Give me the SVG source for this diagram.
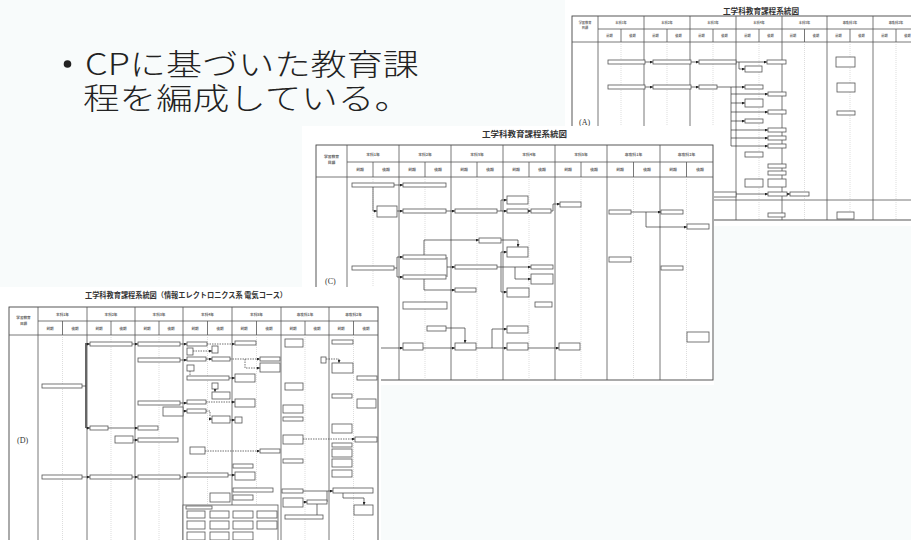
<svg xmlns="http://www.w3.org/2000/svg" width="911" height="540" viewBox="0 0 911 540">
<defs>
<marker id="ar" viewBox="0 0 4 4" refX="4" refY="2" markerWidth="3" markerHeight="3" markerUnits="userSpaceOnUse" orient="auto"><path d="M0 0L4 2L0 4z" fill="#222"/></marker>
<style>
.bg{fill:#fff}
.tb{fill:none;stroke:#444;stroke-width:0.9}
.gl{fill:none;stroke:#555;stroke-width:0.8}
.dl{fill:none;stroke:#bbb;stroke-width:0.5;stroke-dasharray:1 1}
.bx{fill:#fff;stroke:#555;stroke-width:0.8}
.cn{fill:none;stroke:#333;stroke-width:0.7}
.ca{fill:none;stroke:#333;stroke-width:0.7;marker-end:url(#ar)}
.cd{fill:none;stroke:#333;stroke-width:0.7;stroke-dasharray:1.5 1;marker-end:url(#ar)}
.hd{font-family:"Noto Sans CJK JP",sans-serif;font-weight:bold;fill:#666;text-anchor:middle}
.ha{font-size:3.2px}
.hc{font-size:3.8px}
.hdd{font-size:3.6px}
.tt{font-family:"Noto Sans CJK JP",sans-serif;font-weight:bold;fill:#333}
.lb{font-family:"Liberation Serif",serif;font-size:8px;fill:#333}
.main{font-family:"Noto Sans CJK JP",sans-serif;font-size:30px;font-weight:300;fill:#222}
</style>
</defs>
<rect width="911" height="540" fill="#f8fbfb"/>

<g id="bullet">
<circle cx="67.5" cy="64" r="3.8" fill="#222"/>
<text class="main"><tspan x="85" y="74.5" textLength="334" lengthAdjust="spacingAndGlyphs">CPに基づいた教育課</tspan><tspan x="83" y="108.5" textLength="328" lengthAdjust="spacingAndGlyphs">程を編成している。</tspan></text>
</g>

<!-- Chart A -->
<g id="chartA">
<rect class="bg" x="565" y="0" width="346" height="226"/>
<text class="tt" x="723" y="13.5" font-size="7.5" textLength="76" lengthAdjust="spacingAndGlyphs">工学科教育課程系統図</text>
<rect class="tb" x="572" y="16" width="345" height="204"/>
<path class="gl" d="M598 29H917M572 42H917M572 200H917M598 16V220M644 16V220M690 16V220M736 16V220M782 16V220M827 16V220M873 16V220"/>
<path class="gl" d="M621 29V42M667 29V42M713 29V42M759 29V42M804.5 29V42M850 29V42M896 29V42"/>
<path class="dl" d="M621 42V220M667 42V220M713 42V220M759 42V220M804.5 42V220M850 42V220M896 42V220"/>
<g class="hd ha">
<text x="585" y="24">学習教育</text><text x="585" y="29">目標</text>
<text x="621" y="24">本科1年</text><text x="667" y="24">本科2年</text><text x="713" y="24">本科3年</text><text x="759" y="24">本科4年</text><text x="804.5" y="24">本科5年</text><text x="850" y="24">専攻科1年</text><text x="896" y="24">専攻科2年</text>
<text x="609.5" y="37">前期</text><text x="632.5" y="37">後期</text><text x="655.5" y="37">前期</text><text x="678.5" y="37">後期</text><text x="701.5" y="37">前期</text><text x="724.5" y="37">後期</text><text x="747.5" y="37">前期</text><text x="770.5" y="37">後期</text><text x="793" y="37">前期</text><text x="816" y="37">後期</text><text x="838.5" y="37">前期</text><text x="861.5" y="37">後期</text><text x="884.5" y="37">前期</text><text x="907.5" y="37">後期</text>
</g>
<text class="lb" x="579" y="124.5">(A)</text>
<g id="A-connectors">
<path class="ca" d="M645 62H653"/><path class="ca" d="M691 62H699"/><path class="ca" d="M736 62H767"/><path class="ca" d="M739 62V69H745"/>
<path class="ca" d="M645 87H653"/><path class="ca" d="M691 87H699"/><path class="cn" d="M717 87H731V146"/>
<path class="ca" d="M731 87H745"/><path class="ca" d="M731 94H768"/><path class="ca" d="M731 103H745"/><path class="ca" d="M731 112H768"/><path class="ca" d="M731 121H745"/><path class="ca" d="M731 130H768"/><path class="ca" d="M731 138H768"/><path class="ca" d="M731 146H768"/>
<path class="ca" d="M736 194H768"/><path class="ca" d="M787 194H790"/>
</g>
<g id="A-nodes">
<rect class="bx" x="608" y="60" width="37" height="4"/><rect class="bx" x="653" y="60" width="38" height="4"/><rect class="bx" x="699" y="60" width="37" height="4"/><rect class="bx" x="767" y="60" width="19" height="4"/><rect class="bx" x="745" y="66" width="17" height="6"/>
<rect class="bx" x="608" y="85" width="37" height="4"/><rect class="bx" x="653" y="85" width="38" height="4"/><rect class="bx" x="699" y="85" width="18" height="4"/>
<rect class="bx" x="745" y="85" width="18" height="4"/><rect class="bx" x="768" y="92" width="18" height="4"/><rect class="bx" x="745" y="99" width="18" height="8"/><rect class="bx" x="768" y="110" width="18" height="4"/><rect class="bx" x="745" y="119" width="18" height="4"/><rect class="bx" x="768" y="128" width="18" height="4"/><rect class="bx" x="768" y="136" width="18" height="4"/><rect class="bx" x="768" y="144" width="18" height="4"/>
<rect class="bx" x="745" y="152" width="18" height="5"/><rect class="bx" x="768" y="164" width="18" height="4"/><rect class="bx" x="768" y="171" width="18" height="4"/><rect class="bx" x="745" y="179" width="18" height="8"/><rect class="bx" x="768" y="179" width="18" height="8"/>
<rect class="bx" x="705" y="192" width="31" height="5"/><rect class="bx" x="768" y="192" width="19" height="4"/><rect class="bx" x="790" y="192" width="19" height="4"/>
<rect class="bx" x="768" y="213" width="17" height="4"/><rect class="bx" x="837" y="212" width="17" height="7"/>
<rect class="bx" x="836" y="57" width="19" height="10"/><rect class="bx" x="837" y="83" width="18" height="9"/><rect class="bx" x="837" y="111" width="18" height="4"/>
</g>
</g>

<!-- Chart C -->
<g id="chartC">
<rect class="bg" x="302" y="126" width="412" height="259"/>
<text class="tt" x="482" y="137" font-size="8" textLength="85" lengthAdjust="spacingAndGlyphs">工学科教育課程系統図</text>
<rect class="tb" x="316" y="145" width="397" height="235"/>
<path class="gl" d="M347 162H713M316 177H713M347 145V380M399 145V380M451 145V380M503 145V380M555 145V380M607 145V380M660 145V380"/>
<path class="gl" d="M373 162V177M425 162V177M477 162V177M529 162V177M581 162V177M633.5 162V177M686.5 162V177"/>
<path class="dl" d="M373 177V380M425 177V380M477 177V380M529 177V380M581 177V380M633.5 177V380M686.5 177V380"/>
<g class="hd hc">
<text x="331.5" y="158">学習教育</text><text x="331.5" y="164">目標</text>
<text x="373" y="156">本科1年</text><text x="425" y="156">本科2年</text><text x="477" y="156">本科3年</text><text x="529" y="156">本科4年</text><text x="581" y="156">本科5年</text><text x="633.5" y="156">専攻科1年</text><text x="686.5" y="156">専攻科2年</text>
<text x="360" y="171">前期</text><text x="386" y="171">後期</text><text x="412" y="171">前期</text><text x="438" y="171">後期</text><text x="464" y="171">前期</text><text x="490" y="171">後期</text><text x="516" y="171">前期</text><text x="542" y="171">後期</text><text x="568" y="171">前期</text><text x="594" y="171">後期</text><text x="620" y="171">前期</text><text x="647" y="171">後期</text><text x="673" y="171">前期</text><text x="700" y="171">後期</text>
</g>
<text class="lb" x="325" y="284">(C)</text>
<g id="C-connectors">
<path class="ca" d="M394 185H403"/><path class="ca" d="M373 187V211H377"/><path class="ca" d="M397 211H403"/><path class="ca" d="M446 211H455"/>
<path class="cn" d="M497 211H501"/><path class="ca" d="M501 211V200H507"/><path class="ca" d="M501 211H507"/><path class="ca" d="M528 211H531"/><path class="ca" d="M551 211H553V204H560"/>
<path class="cn" d="M394 268H397M397 257V277"/><path class="ca" d="M397 257H403"/><path class="ca" d="M397 277H403"/>
<path class="cn" d="M447 257V277"/><path class="ca" d="M447 267H455"/>
<path class="ca" d="M424 255V240H479"/><path class="ca" d="M501 240H518V247"/><path class="ca" d="M424 279V290H455"/>
<path class="ca" d="M497 267H531"/><path class="cn" d="M501 252V292"/><path class="ca" d="M501 252H507"/><path class="ca" d="M501 292H507"/><path class="ca" d="M515 267V279H531"/>
<path class="ca" d="M446 328H465V343"/>
<path class="ca" d="M330 348H403"/><path class="ca" d="M423 348H455"/><path class="ca" d="M476 348H507"/><path class="ca" d="M492 348V329H507"/><path class="ca" d="M528 348H559"/>
<path class="ca" d="M631 212H661"/><path class="ca" d="M646 212V227H687"/>
</g>
<g id="C-nodes">
<rect class="bx" x="352" y="183" width="42" height="4"/><rect class="bx" x="403" y="183" width="43" height="4"/><rect class="bx" x="377" y="206" width="20" height="11"/><rect class="bx" x="403" y="209" width="43" height="4"/><rect class="bx" x="455" y="209" width="42" height="4"/>
<rect class="bx" x="507" y="196" width="21" height="8"/><rect class="bx" x="507" y="209" width="21" height="4"/><rect class="bx" x="531" y="209" width="20" height="4"/><rect class="bx" x="560" y="202" width="21" height="5"/>
<rect class="bx" x="352" y="266" width="42" height="4"/><rect class="bx" x="403" y="255" width="43" height="4"/><rect class="bx" x="403" y="275" width="43" height="4"/><rect class="bx" x="479" y="238" width="22" height="5"/><rect class="bx" x="507" y="247" width="21" height="10"/>
<rect class="bx" x="455" y="288" width="21" height="4"/><rect class="bx" x="455" y="265" width="42" height="4"/><rect class="bx" x="531" y="265" width="22" height="4"/><rect class="bx" x="531" y="274" width="22" height="10"/><rect class="bx" x="507" y="288" width="22" height="9"/>
<rect class="bx" x="403" y="302" width="44" height="7"/><rect class="bx" x="535" y="302" width="17" height="5"/><rect class="bx" x="427" y="326" width="19" height="5"/>
<rect class="bx" x="455" y="343" width="21" height="7"/><rect class="bx" x="403" y="343" width="20" height="7"/><rect class="bx" x="507" y="326" width="21" height="7"/><rect class="bx" x="507" y="343" width="21" height="7"/><rect class="bx" x="559" y="343" width="21" height="7"/>
<rect class="bx" x="609" y="210" width="22" height="4"/><rect class="bx" x="661" y="210" width="22" height="4"/><rect class="bx" x="687" y="224" width="22" height="5"/><rect class="bx" x="609" y="257" width="22" height="5"/><rect class="bx" x="661" y="266" width="22" height="4"/><rect class="bx" x="687" y="332" width="22" height="10"/>
</g>
</g>

<!-- Chart D -->
<g id="chartD">
<rect class="bg" x="0" y="287" width="381" height="253"/>
<text class="tt" x="85" y="297.5" font-size="7.5" textLength="202" lengthAdjust="spacingAndGlyphs">工学科教育課程系統図（情報エレクトロニクス系 電気コース）</text>
<rect class="tb" x="9" y="307" width="369" height="240"/>
<path class="gl" d="M38 321H378M9 335H378M38 307V547M87 307V547M135 307V547M183 307V547M232 307V547M281 307V547M329 307V547"/>
<path class="gl" d="M62.5 321V335M111 321V335M159 321V335M207.5 321V335M256.5 321V335M305 321V335M353.5 321V335"/>
<path class="dl" d="M62.5 335V540M111 335V540M159 335V540M207.5 335V540M256.5 335V540M305 335V540M353.5 335V540"/>
<g class="hd hdd">
<text x="23.5" y="319">学習教育</text><text x="23.5" y="325">目標</text>
<text x="62.5" y="316">本科1年</text><text x="111" y="316">本科2年</text><text x="159" y="316">本科3年</text><text x="207.5" y="316">本科4年</text><text x="256.5" y="316">本科5年</text><text x="305" y="316">専攻科1年</text><text x="353.5" y="316">専攻科2年</text>
<text x="50" y="330">前期</text><text x="75" y="330">後期</text><text x="99" y="330">前期</text><text x="123" y="330">後期</text><text x="147" y="330">前期</text><text x="171" y="330">後期</text><text x="195" y="330">前期</text><text x="220" y="330">後期</text><text x="244" y="330">前期</text><text x="269" y="330">後期</text><text x="293" y="330">前期</text><text x="317" y="330">後期</text><text x="341" y="330">前期</text><text x="366" y="330">後期</text>
</g>
<text class="lb" x="17" y="443">(D)</text>
<g id="D-connectors">
<path d="M86 343V428" stroke="#666" stroke-width="2" fill="none"/>
<path class="cn" d="M82 386H86"/><path class="ca" d="M86 344H90"/><path class="ca" d="M86 428H90"/>
<path class="ca" d="M132 344H138"/><path class="ca" d="M180 344H187"/><path class="ca" d="M180 360H187"/><path class="ca" d="M180 403H187"/><path class="ca" d="M183 411H187"/>
<path class="ca" d="M108 428H138"/><path class="ca" d="M133 440H138"/>
<path class="ca" d="M82 477H90"/><path class="ca" d="M132 477H138"/><path class="ca" d="M180 477H187"/>
<path class="cd" d="M207 344H235"/><path class="cd" d="M193 351H212"/><path class="ca" d="M206 359H212"/><path class="cd" d="M230 359H260"/><path class="cd" d="M245 359V368H260"/>
<path class="cn" d="M190 371V376" stroke-dasharray="1.5 1"/><path class="ca" d="M229 378H235"/><path class="cd" d="M215 389V392"/>
<path class="cd" d="M206 402H235"/><path class="cd" d="M206 411H210V419H212"/><path class="ca" d="M230 420H235"/>
<path class="cd" d="M205 451H260"/><path class="ca" d="M228 475H235"/>
<path class="cd" d="M303 439H355"/><path class="cd" d="M326 359H339V363"/>
<path class="ca" d="M303 491H333"/><path class="cn" d="M327 491V502"/><path class="ca" d="M303 502H307"/><path class="cn" d="M317 504V515"/><path class="ca" d="M343 493V498H364V505"/>
</g>
<g id="D-nodes">
<rect class="bx" x="42" y="384" width="40" height="4"/><rect class="bx" x="90" y="342" width="42" height="4"/><rect class="bx" x="90" y="426" width="18" height="4"/>
<rect class="bx" x="138" y="342" width="42" height="4"/><rect class="bx" x="138" y="358" width="42" height="4"/><rect class="bx" x="138" y="401" width="42" height="4"/><rect class="bx" x="163" y="407" width="20" height="9"/><rect class="bx" x="138" y="426" width="20" height="4"/><rect class="bx" x="115" y="436" width="18" height="7"/><rect class="bx" x="138" y="438" width="40" height="4"/>
<rect class="bx" x="42" y="475" width="40" height="4"/><rect class="bx" x="90" y="475" width="42" height="4"/><rect class="bx" x="138" y="475" width="42" height="4"/>
<rect class="bx" x="187" y="342" width="20" height="4"/><rect class="bx" x="187" y="348" width="6" height="7"/><rect class="bx" x="212" y="346" width="6" height="7"/><rect class="bx" x="187" y="357" width="19" height="4"/><rect class="bx" x="212" y="357" width="18" height="4"/><rect class="bx" x="187" y="365" width="7" height="6"/>
<rect class="bx" x="187" y="376" width="42" height="4"/><rect class="bx" x="212" y="383" width="6" height="6"/><rect class="bx" x="212" y="392" width="18" height="7"/><rect class="bx" x="187" y="400" width="19" height="4"/><rect class="bx" x="187" y="409" width="19" height="4"/><rect class="bx" x="212" y="416" width="18" height="7"/><rect class="bx" x="235" y="417" width="7" height="6"/>
<rect class="bx" x="190" y="447" width="15" height="7"/><rect class="bx" x="187" y="473" width="41" height="4"/><rect class="bx" x="210" y="493" width="20" height="9"/>
<rect class="bx" x="183" y="505" width="95" height="40"/><rect class="bx" x="186" y="506" width="26" height="3"/>
<rect class="bx" x="187" y="511" width="18" height="7"/><rect class="bx" x="210" y="511" width="19" height="7"/><rect class="bx" x="233" y="511" width="20" height="7"/><rect class="bx" x="257" y="511" width="20" height="7"/>
<rect class="bx" x="187" y="521" width="18" height="8"/><rect class="bx" x="210" y="521" width="19" height="8"/><rect class="bx" x="233" y="521" width="20" height="8"/><rect class="bx" x="257" y="521" width="20" height="8"/>
<rect class="bx" x="187" y="532" width="18" height="8"/><rect class="bx" x="210" y="532" width="19" height="8"/><rect class="bx" x="233" y="532" width="20" height="8"/>
<rect class="bx" x="235" y="341" width="21" height="4"/><rect class="bx" x="260" y="357" width="20" height="4"/><rect class="bx" x="260" y="363" width="20" height="9"/><rect class="bx" x="235" y="374" width="20" height="8"/><rect class="bx" x="235" y="399" width="20" height="8"/>
<rect class="bx" x="260" y="449" width="20" height="4"/><rect class="bx" x="233" y="464" width="20" height="4"/><rect class="bx" x="235" y="472" width="20" height="8"/><rect class="bx" x="233" y="488" width="40" height="4"/><rect class="bx" x="233" y="495" width="20" height="5"/>
<rect class="bx" x="285" y="339" width="18" height="8"/><rect class="bx" x="285" y="383" width="18" height="7"/><rect class="bx" x="283" y="405" width="20" height="8"/><rect class="bx" x="283" y="417" width="20" height="4"/><rect class="bx" x="283" y="435" width="20" height="9"/><rect class="bx" x="283" y="459" width="20" height="4"/>
<rect class="bx" x="321" y="357" width="5" height="6"/><rect class="bx" x="282" y="489" width="21" height="4"/><rect class="bx" x="283" y="498" width="20" height="9"/><rect class="bx" x="307" y="500" width="20" height="4"/><rect class="bx" x="285" y="515" width="38" height="4"/>
<rect class="bx" x="332" y="340" width="21" height="4"/><rect class="bx" x="357" y="376" width="20" height="4"/><rect class="bx" x="332" y="363" width="21" height="10"/><rect class="bx" x="332" y="394" width="20" height="4"/><rect class="bx" x="357" y="399" width="19" height="9"/>
<rect class="bx" x="332" y="424" width="20" height="9"/><rect class="bx" x="355" y="437" width="22" height="5"/><rect class="bx" x="332" y="443" width="20" height="4"/><rect class="bx" x="332" y="449" width="20" height="8"/><rect class="bx" x="332" y="459" width="20" height="8"/><rect class="bx" x="332" y="470" width="20" height="7"/>
<rect class="bx" x="333" y="488" width="40" height="5"/><rect class="bx" x="354" y="505" width="19" height="10"/>
</g>
</g>
</svg>
